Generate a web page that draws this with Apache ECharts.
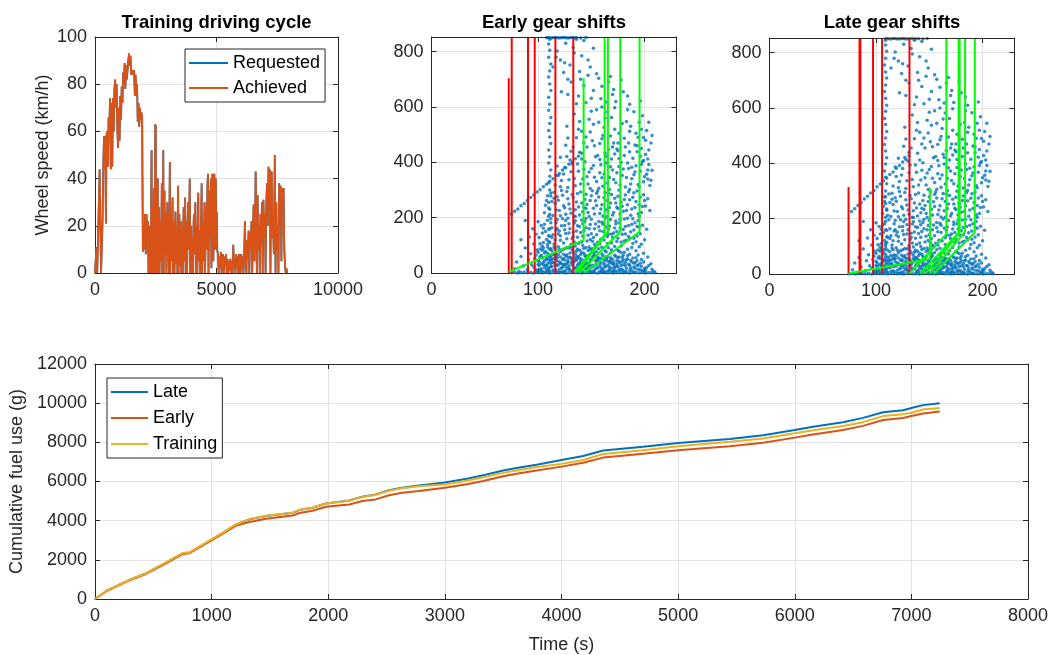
<!DOCTYPE html>
<html><head><meta charset="utf-8">
<script src="https://cdn.jsdelivr.net/npm/echarts@6/dist/echarts.min.js"></script>
<style>html,body{margin:0;padding:0;background:#fff}#c{width:1052px;height:655px}</style>
</head><body><div id="c"></div><script>
// ---------- DATA ----------
const drivingCycle = [[0,0],[40,0],[60,11],[90,0],[140,0],[160,30],[190,44],[220,20],[250,0],[290,0],[310,22],[340,45],[370,58],[400,44],[420,58],[450,21],[470,58],[500,60],[530,45],[560,66],[590,62],[620,74],[650,44],[680,72],[710,45],[740,74],[770,60],[800,78],[830,82],[860,70],[890,80],[920,60],[950,53],[980,70],[1010,56],[1040,75],[1070,65],[1100,79],[1130,72],[1160,85],[1190,80],[1220,89],[1250,78],[1280,88],[1310,82],[1340,86],[1370,90],[1400,93],[1430,88],[1460,92],[1490,84],[1520,86],[1550,85],[1580,84],[1610,86],[1640,75],[1670,84],[1700,75],[1730,80],[1760,64],[1790,72],[1820,62],[1850,70],[1880,65],[1910,68],[1940,66],[1970,9],[2000,20],[2030,10],[2060,25],[2090,8],[2120,25],[2150,15],[2180,22],
[2200,0],[2220,12],[2240,0],[2260,20],[2280,5],[2300,0],[2320,45],[2330,52],[2345,0],[2360,18],[2380,28],[2395,0],[2410,22],[2430,36],[2445,0],[2460,15],[2480,63],[2500,62],[2515,0],[2530,18],[2550,22],[2570,8],[2585,40],[2600,0],[2620,16],[2640,28],[2655,0],[2670,12],[2690,22],[2710,5],[2730,18],[2750,38],[2770,0],[2790,20],[2810,52],[2825,0],[2840,14],[2860,35],[2880,8],[2900,25],[2920,20],[2940,0],[2960,18],[2980,30],[3000,10],[3020,24],[3040,0],[3060,20],[3080,47],[3095,0],[3110,16],[3130,24],[3150,5],[3170,20],[3190,32],[3210,0],[3230,14],[3250,22],[3270,0],[3290,18],[3310,26],[3330,4],[3350,15],[3370,20],[3390,0],[3410,25],[3420,37],[3435,0],[3450,12],[3470,25],[3490,3],[3510,16],[3530,22],[3550,0],[3570,10],[3590,18],[3610,0],[3630,20],[3650,28],[3670,5],[3690,18],[3710,32],[3730,0],[3750,15],[3770,22],[3790,0],[3810,20],[3830,30],[3850,10],[3870,22],[3900,40],[3915,0],[3930,12],[3950,20],[3970,0],[3990,10],[4010,15],[4030,0],[4050,18],[4070,25],[4090,8],[4110,20],[4130,30],[4150,0],[4170,14],[4190,20],[4210,0],[4230,22],[4250,34],[4270,5],[4290,12],[4310,18],[4330,0],[4350,15],[4370,25],[4390,38],[4410,0],[4430,12],[4450,20],[4470,5],[4490,18],[4510,30],[4530,0],[4550,15],[4570,28],[4590,10],[4610,24],[4630,38],[4650,42],[4670,0],[4690,20],[4710,35],[4730,15],[4750,28],[4770,40],[4790,2],[4810,22],[4830,42],[4850,38],[4870,5],[4890,20],[4910,42],[4930,36],[4950,10],[4970,40],[4990,20],[5010,26],[5030,10],
[5060,8],[5090,0],[5120,7],[5150,2],[5180,9],[5210,0],[5240,6],[5270,8],[5300,0],[5330,7],[5360,3],[5390,8],[5420,0],[5450,6],[5480,0],[5510,5],[5540,1],[5570,6],[5600,0],[5630,5],[5660,0],[5690,12],[5720,2],[5750,6],[5780,0],[5810,8],[5840,2],[5870,7],[5900,0],[5930,8],[5960,6],[5990,0],[6020,8],[6050,2],[6080,7],[6110,0],[6140,9],[6170,22],[6200,5],[6230,0],[6260,14],[6290,6],[6320,18],[6350,0],[6380,17],[6410,10],[6440,22],[6470,0],[6500,20],[6530,29],[6560,5],[6590,20],[6610,43],[6640,25],[6660,0],[6690,33],[6720,10],[6750,20],[6780,0],[6810,25],[6840,12],[6870,30],[6900,0],[6930,31],[6960,15],[6990,25],[7020,0],[7050,30],[7080,38],[7110,20],[7140,45],[7170,30],[7190,44],[7220,0],[7250,42],[7270,43],[7300,15],[7330,20],[7360,8],[7400,50],[7430,0],[7460,30],[7490,10],[7520,20],[7550,0],[7580,38],[7610,20],[7640,37],[7670,5],[7700,36],[7730,30],[7760,36],[7790,10],[7820,3],[7850,0],[7880,2],[7900,0]];

const fuelTime     = [0,100,300,440,585,755,810,955,1100,1210,1325,1467,1695,1752,1866,1980,2180,2293,2407,2521,2635,2778,3000,3200,3330,3500,3640,3786,4000,4186,4357,4700,5000,5443,5729,6000,6157,6414,6586,6757,6929,7000,7100,7243];
const fuelLate     = [0,424,983,1322,1780,2340,2370,2880,3390,3810,4070,4240,4400,4540,4660,4880,5030,5220,5340,5560,5680,5800,5950,6150,6320,6560,6710,6860,7100,7300,7580,7780,7970,8170,8360,8630,8800,9030,9250,9540,9640,9750,9900,10000];
const fuelEarly    = [0,410,960,1290,1740,2300,2340,2840,3350,3750,3930,4100,4260,4390,4510,4710,4830,5000,5085,5300,5420,5510,5680,5870,6030,6270,6420,6560,6760,6960,7220,7420,7590,7800,7980,8240,8400,8630,8840,9140,9240,9340,9470,9580];
const fuelTraining = [0,424,983,1322,1790,2350,2380,2890,3400,3820,4080,4250,4410,4550,4670,4880,5020,5210,5320,5530,5650,5760,5850,6050,6220,6440,6590,6740,6900,7100,7400,7600,7800,8030,8200,8460,8620,8830,9030,9340,9440,9510,9680,9750];

// operating points
const scatterCore = [
[96,22],[98,64],[99,8],[101,41],[102,87],[103,15],[104,55],[105,30],[106,72],[107,4],[108,48],[109,93],[110,19],[111,61],[112,35],[113,80],[114,10],[115,52],[116,26],[117,70],[118,44],[119,95],[120,14],[121,58],[122,33],[123,84],[124,6],[125,47],[126,23],[127,66],[128,39],[129,90],[130,12],[131,54],[132,29],[133,76],[134,42],[135,98],[136,18],[137,60],[138,34],[139,82],[140,9],[141,50],[142,27],[143,71],[144,45],[145,92],[146,16],[147,63],[148,37],[149,86],[150,3],[100,75],[104,97],[108,26],[112,58],[116,88],[120,40],[124,68],[128,17],[132,49],[136,79],[140,31],[144,63],[148,11],[103,33],[107,78],[111,5],[115,36],[119,67],[123,21],[127,92],[131,38],[135,56],[139,13],[143,89],[147,25],
[151,28],[152,61],[153,12],[154,44],[155,77],[156,20],[157,53],[158,6],[159,36],[160,69],[161,15],[162,48],[163,80],[164,25],[165,57],[166,9],[167,40],[168,72],[169,18],[170,51],[171,31],[172,64],[173,7],[174,45],[175,23],[176,58],[177,36],[178,74],[179,13],[180,49],[182,27],[184,62],[186,10],[188,40],[190,22],[192,55],[194,14],[196,35],[198,8],[202,20],
[101,128],[103,172],[105,110],[107,150],[109,191],[111,133],[113,164],[115,105],[117,182],[119,141],[121,118],[123,196],[125,156],[127,124],[129,178],[131,103],[133,147],[135,189],[137,129],[139,168],[141,112],[143,154],[145,197],[147,136],[149,175],[151,115],[153,160],[155,138],[157,186],[159,122],[161,150],[163,199],[165,131],[167,170],[169,108],[171,145],[173,188],[175,126],[177,163],[179,140],[181,195],[183,118],[185,172],[187,149],[189,107],[191,182],[193,134],[195,165],[110,115],[118,160],[126,190],[134,112],[142,178],[150,142],[158,105],[166,158],[174,114],[182,168],[190,126],[98,140],
[106,218],[108,262],[110,235],[112,289],[114,208],[116,251],[118,276],[120,226],[122,298],[124,243],[126,212],[128,268],[130,231],[132,284],[134,205],[136,257],[138,239],[140,293],[142,221],[144,266],[146,248],[148,204],[150,279],[152,234],[154,261],[156,296],[158,215],[160,247],[162,272],[164,229],[166,288],[168,253],[170,210],[172,270],[174,238],[176,299],[178,256],[180,223],[182,282],[184,247],[186,265],[188,231],[190,290],[192,258],[194,214],[196,275],[198,240],[200,262],[145,233],[165,205],
[116,318],[119,352],[122,334],[125,381],[128,309],[131,366],[134,342],[137,394],[140,322],[143,375],[146,348],[149,305],[152,389],[155,331],[158,362],[161,314],[164,398],[167,345],[170,372],[173,326],[176,385],[179,352],[182,311],[185,378],[188,341],[191,365],[194,320],[197,392],[200,348],[203,372],[206,335],[160,344],[178,399],[148,365],[186,302],
[121,418],[126,462],[131,440],[136,489],[141,412],[146,455],[151,478],[156,425],[161,497],[166,446],[171,470],[176,414],[181,487],[186,438],[191,463],[196,422],[201,480],[204,445],[207,497],[199,407],[185,470],[164,421],[145,492],[174,448],[194,491],[203,412],[158,468],[130,408],
[127,530],[134,575],[141,512],[148,556],[155,590],[162,526],[169,562],[176,505],[183,548],[190,583],[197,520],[204,545],[152,538],[172,597],[186,512],[198,568],[165,582],[139,548],
[128,645],[136,612],[143,678],[150,632],[157,704],[164,618],[171,663],[178,698],[184,640],[147,715],[160,675],[196,622],
[114,745],[118,802],[121,770],[126,830],[130,752],[134,795],[139,728],[143,840],[147,770],[124,725],[136,845],[152,812],
[78,15],[80,40],[82,5],[84,60],[86,25],[88,90],[90,12],[91,48],[92,130],[93,70],[94,30],[95,160],[96,105],[88,190],[84,120]];
const scatterDense = [
[97,52],[99,83],[100,31],[102,11],[103,64],[105,90],[106,44],[107,27],[109,71],[110,50],[111,86],[113,23],[114,67],[115,94],[117,8],[118,56],[119,29],[121,77],[122,3],[123,49],[125,88],[126,61],[127,34],[129,15],[130,72],[131,95],[133,41],[134,20],[135,68],[137,86],[138,7],[139,52],[141,74],[142,99],[143,17],[145,59],[146,35],[147,81],[149,6],[150,47],[151,88],[152,24],[153,66],[154,97],[155,34],[156,58],[157,88],[158,41],[159,19],[160,93],[161,62],[162,30],[163,5],[164,76],[165,43],[166,91],[167,21],[168,55],[169,84],[170,33],[171,8],[172,96],[173,60],[174,25],[175,82],[176,42],[177,14],[178,98],[179,57],[180,30],[181,75],[182,6],[183,48],[184,86],[185,32],[186,68],[187,19],[188,92],[189,54],[190,3],[191,38],[192,80],[193,27],[194,65],[195,95],[197,49],[199,71],[200,16],[203,58],[206,33],[104,82],[108,13],[112,47],[116,63],[120,86],[124,31],[128,57],[132,84],[136,46],[140,67],[144,29],[148,94],[152,75],[156,43],[160,11],[164,59],[168,37],[172,22],[176,79],[180,64],
[100,185],[102,106],[104,145],[106,176],[108,121],[110,158],[112,196],[114,138],[116,120],[118,193],[120,152],[122,171],[124,108],[126,143],[128,198],[130,160],[132,125],[134,181],[136,152],[138,107],[140,146],[142,133],[144,186],[146,116],[148,160],[150,194],[152,128],[154,177],[156,111],[158,153],[160,183],[162,119],[164,166],[166,140],[168,193],[170,128],[172,163],[174,150],[176,182],[178,112],[180,157],[182,141],[184,198],[186,124],[188,176],[190,155],[192,113],[194,190],[196,142],[198,173],[200,120],[202,158],[105,162],[113,128],[121,135],[129,145],[137,171],[145,164],[153,104],[161,176],[169,140],[177,194],[185,132],[193,168],[109,103],[117,155],[125,172],[133,133],[141,192],[149,121],[157,167],[165,107],[173,178],[181,116],[189,196],[197,104],
[107,245],[109,279],[111,212],[113,258],[115,292],[117,228],[119,263],[121,207],[123,281],[125,236],[127,295],[129,249],[131,216],[133,272],[135,229],[137,287],[139,210],[141,253],[143,238],[145,285],[147,219],[149,262],[151,297],[153,213],[155,244],[157,275],[159,231],[161,206],[163,291],[165,262],[167,237],[169,284],[171,219],[173,253],[175,277],[177,213],[179,241],[181,266],[183,226],[185,294],[187,209],[189,274],[191,237],[193,296],[195,248],[197,219],[199,283],[201,242],[203,268],[205,226],[115,270],[135,204],[155,288],[175,233],[195,205],
[118,387],[121,312],[124,358],[127,421],[129,337],[132,394],[135,315],[138,368],[139,436],[142,340],[144,402],[147,322],[150,378],[153,346],[154,420],[157,306],[159,391],[162,358],[163,433],[165,325],[168,384],[169,412],[171,338],[174,362],[175,442],[177,318],[180,376],[181,425],[183,345],[184,398],[187,322],[189,415],[190,355],[192,388],[193,438],[195,312],[196,368],[198,402],[199,330],[201,428],[202,357],[204,392],[205,316],[207,371],[158,410],[167,302],[172,430],[188,382],[197,450],[203,340],
[128,488],[133,455],[138,520],[143,470],[149,510],[153,460],[157,545],[160,485],[163,560],[168,495],[172,520],[175,470],[179,540],[182,455],[187,530],[192,505],[195,545],[199,490],[202,515],[206,470],[170,455],[184,590],[160,600],[150,585],[193,460],
[122,655],[131,690],[138,640],[145,615],[152,660],[159,630],[166,690],[173,620],[180,655],[140,700],[155,720],[168,710],[117,780],[125,760],[133,815],[141,785],[149,745],[128,700],[170,645],[186,610]];
const scatterLow = [[98,12],[100,45],[101,27],[102,58],[104,6],[105,38],[106,19],[108,53],[109,34],[110,8],[112,24],[113,49],[114,38],[116,12],[117,55],[118,29],[120,4],[121,37],[122,18],[124,52],[125,31],[126,9],[128,45],[129,26],[130,57],[132,7],[133,33],[134,16],[136,50],[137,28],[138,59],[140,42],[141,21],[142,4],[144,36],[145,14],[146,53],[148,28],[149,47],[150,20],[151,56],[152,5],[154,30],[155,16],[156,49],[158,27],[159,53],[160,4],[162,37],[163,22],[164,50],[166,29],[167,12],[168,45],[170,6],[171,40],[172,18],[174,33],[175,55],[176,11],[178,26],[179,42],[180,7],[182,38],[183,17],[184,51],[186,28],[187,45],[188,9],[190,35],[191,17],[193,44],[194,29],[196,12],[197,24],[199,40],[201,9],[204,27],[207,14],[209,5]];
const scatterBottomRow = [[75,1],[78,3],[81,0],[84,2],[87,4],[90,1],[93,3],[96,0],[99,2],[102,4],[105,1],[108,3],[111,0],[114,2],[117,4],[120,1],[123,3],[126,0],[129,2],[132,4],[135,1],[138,3],[141,0],[144,2],[147,4],[150,1],[153,3],[156,0],[159,2],[162,4],[165,1],[168,3],[171,0],[174,2],[177,4],[180,1],[183,3],[186,0],[189,2],[192,4],[195,1],[198,3],[201,0],[204,2],[207,4],[210,1]];
const earlyDiagonal = [[75,213],[78,223],[81,231],[84,243],[87,251],[90,262],[93,273],[96,282],[99,293],[102,301],[105,312],[108,321],[111,332],[114,341],[117,352],[120,360],[123,372],[126,380],[129,393],[132,401],[135,413],[138,422],[141,433]];
const earlyColumn = [[110,15],[111,40],[110,62],[112,88],[111,110],[110,135],[111,160],[112,182],[110,205],[111,230],[110,255],[112,278],[111,300],[110,326],[111,350],[112,372],[110,398],[111,420],[110,445],[112,468],[111,492],[110,515],[111,540],[112,562],[110,588],[111,610],[110,635],[112,660],[111,683],[110,708],[111,730],[112,755],[110,780],[111,805],[110,828],[111,845]];
const earlyTop = [[108,850],[110,851],[112,849],[114,850],[116,851],[118,850],[120,849],[122,850],[124,851],[126,850],[128,849],[130,850],[132,851],[134,850],[136,850],[140,849],[145,851]];
const lateDiagonal = [[77,226],[80,236],[83,248],[86,258],[89,271],[92,281],[95,293],[98,302],[101,315],[104,325],[107,337],[110,347],[113,360],[116,369],[119,382],[122,392],[125,405],[128,414],[131,427]];
const lateColumn = [[109,15],[110,40],[109,62],[108,88],[109,110],[110,135],[109,160],[108,182],[109,205],[110,230],[109,255],[108,278],[109,300],[110,326],[109,350],[108,372],[109,398],[110,420],[109,445],[108,468],[109,492],[110,515],[109,540],[108,562],[109,588],[110,610],[109,635],[108,660],[109,683],[110,708],[109,730],[108,755],[109,780],[110,805],[109,828],[109,845]];
const lateTop = [[109,850],[111,851],[113,849],[115,850],[117,851],[119,850],[121,849],[123,850],[125,851],[127,850],[129,849],[131,850],[134,851],[137,850],[140,850],[144,849],[148,851]];

// shift lines: red = [x, y0, y1]; green = polylines
const earlyRed = [[72.5,0,704],[75.3,0,853],[90.6,0,853],[96.9,0,853],[116.3,0,853],[133.1,0,853]];
const earlyGreen = [
  [[72.5,4],[142.8,119],[142.8,704]],
  [[134.4,2],[162.5,137],[162.5,853]],
  [[136.5,2],[165.6,149],[165.6,853]],
  [[139,2],[177.2,149],[177.2,853]],
  [[143.7,2],[195.3,149],[195.3,853]]];
const lateRed = [[74.2,0,314],[84.5,0,853],[85.3,0,853],[97.2,0,853],[105.7,0,853],[131.4,0,853]];
const lateGreen = [
  [[74.2,2],[150.6,54],[150.6,313]],
  [[131.4,2],[166,144],[166,853]],
  [[141.8,2],[177.5,149],[177.5,853]],
  [[146.5,2],[178.5,149],[178.5,853]],
  [[150.6,2],[183.6,153],[183.6,853]],
  [[154.3,2],[192.7,150],[192.7,853]]];

const titles = ['Training driving cycle','Early gear shifts','Late gear shifts'];

// ---------- CHART ----------
const FONT = 'Liberation Sans';
const AX = '#262626', GRIDC = '#e2e2e2';
const BLUE = '#0072BD', ORANGE = '#D95319', YELLOW = '#EDB120';

const grids = [
  {left:95, top:37, width:243, height:236},
  {left:431.5, top:37, width:245, height:236},
  {left:769.5, top:38, width:245, height:236},
  {left:95, top:364, width:933, height:236}
];
const plain = v => String(v);
function mainAxis(g, min, max, interval, pos, showMax, extra) {
  return Object.assign({gridIndex:g, type:'value', min, max, interval, position:pos,
    axisLine:{show:true, onZero:false, lineStyle:{color:AX, width:1}},
    axisTick:{show:true, inside:true, length:5, lineStyle:{color:AX, width:1}},
    axisLabel:{show:true, color:AX, fontSize:18, fontFamily:FONT, margin:8, showMaxLabel:showMax, showMinLabel:true, hideOverlap:false, formatter:plain},
    splitLine:{show:true, lineStyle:{color:GRIDC, width:1}}}, extra||{});
}
function mirrorAxis(g, min, max, interval, pos) {
  return {gridIndex:g, type:'value', min, max, interval, position:pos, z:5,
    axisLine:{show:true, onZero:false, lineStyle:{color:AX, width:1}},
    axisTick:{show:true, inside:true, length:5, lineStyle:{color:AX, width:1}},
    axisLabel:{show:false}, splitLine:{show:false}};
}
const nameStyle = {color:AX, fontSize:18, fontFamily:FONT};
const xAxis = [
  mainAxis(0,0,10000,5000,'bottom',true), mirrorAxis(0,0,10000,5000,'top'),
  mainAxis(1,0,230,100,'bottom',false), mirrorAxis(1,0,230,100,'top'),
  mainAxis(2,0,230,100,'bottom',false), mirrorAxis(2,0,230,100,'top'),
  mainAxis(3,0,8000,1000,'bottom',true,{name:'Time (s)', nameLocation:'middle', nameGap:37, nameTextStyle:nameStyle}), mirrorAxis(3,0,8000,1000,'top')
];
const yAxis = [
  mainAxis(0,0,100,20,'left',true,{name:'Wheel speed (km/h)', nameLocation:'middle', nameGap:43, nameTextStyle:nameStyle}), mirrorAxis(0,0,100,20,'right'),
  mainAxis(1,0,853,200,'left',false), mirrorAxis(1,0,853,200,'right'),
  mainAxis(2,0,853,200,'left',false), mirrorAxis(2,0,853,200,'right'),
  mainAxis(3,0,12000,2000,'left',true,{name:'Cumulative fuel use (g)', nameLocation:'middle', nameGap:63, nameTextStyle:nameStyle}), mirrorAxis(3,0,12000,2000,'right')
];

const series = [];
series.push({type:'line', name:'Requested', xAxisIndex:0, yAxisIndex:0, data:drivingCycle, symbol:'none', lineStyle:{width:1.8, color:BLUE}, itemStyle:{color:BLUE}});
series.push({type:'line', name:'Achieved', xAxisIndex:0, yAxisIndex:0, data:drivingCycle, symbol:'none', lineStyle:{width:1.8, color:ORANGE}, itemStyle:{color:ORANGE}});

function gearPlot(axisIdx, pts, red, green) {
  series.push({type:'scatter', xAxisIndex:axisIdx, yAxisIndex:axisIdx, data:pts, symbol:'circle', symbolSize:3.5, itemStyle:{color:BLUE}, silent:true, z:2});
  red.forEach(r => series.push({type:'line', xAxisIndex:axisIdx, yAxisIndex:axisIdx, data:[[r[0],r[1]],[r[0],r[2]]], symbol:'none', lineStyle:{color:'#ff0000', width:2}, z:3, silent:true}));
  green.forEach(gl => series.push({type:'line', xAxisIndex:axisIdx, yAxisIndex:axisIdx, data:gl, symbol:'none', lineStyle:{color:'#00ff00', width:2}, z:3, silent:true}));
}
gearPlot(2, [].concat(scatterCore, scatterDense, scatterLow, scatterBottomRow, earlyDiagonal, earlyColumn, earlyTop), earlyRed, earlyGreen);
gearPlot(4, [].concat(scatterCore, scatterDense, scatterLow, scatterBottomRow, lateDiagonal, lateColumn, lateTop), lateRed, lateGreen);

[['Late',fuelLate,BLUE],['Early',fuelEarly,ORANGE],['Training',fuelTraining,YELLOW]].forEach(([n,arr,c]) => {
  series.push({type:'line', name:n, xAxisIndex:6, yAxisIndex:6, data:fuelTime.map((t,i)=>[t,arr[i]]), symbol:'none', lineStyle:{width:2, color:c}, itemStyle:{color:c}});
});

const legendBase = {orient:'vertical', icon:'rect', itemHeight:2, backgroundColor:'#fff', borderColor:AX, borderWidth:1, borderRadius:0,
  textStyle:{fontSize:18, lineHeight:22, color:'#000', fontFamily:FONT}, selectedMode:false};
const legend = [
  Object.assign({}, legendBase, {left:185, top:49, data:['Requested','Achieved'], itemWidth:39, itemGap:3, padding:[3,5,3,4]}),
  Object.assign({}, legendBase, {left:107, top:378, data:['Late','Early','Training'], itemWidth:37, itemGap:4, padding:[3,5,3,4]})
];

const titleX = [216.5, 554, 892];
const graphic = titles.map((t,i) => ({type:'text', x:titleX[i], y:23, style:{text:t, fill:'#000', font:'bold 18.5px "Liberation Sans", Arial, sans-serif', textAlign:'center', textVerticalAlign:'middle'}}));

const chart = echarts.init(document.getElementById('c'), null, {renderer:'canvas'});
chart.setOption({animation:false, backgroundColor:'#fff', grid:grids, xAxis, yAxis, series, legend, graphic});
</script></body></html>
